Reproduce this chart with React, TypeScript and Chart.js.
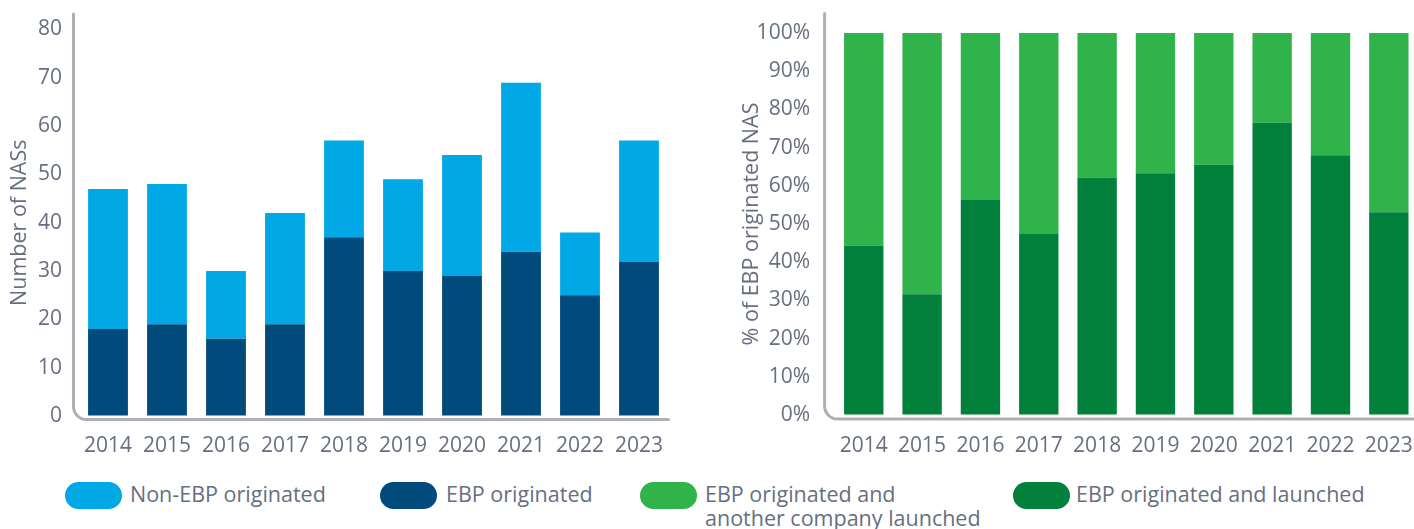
import React, { useEffect, useRef } from "react";
import { Chart, registerables } from "chart.js";

Chart.register(...registerables);

// ---- data ----
const years = ["2014", "2015", "2016", "2017", "2018", "2019", "2020", "2021", "2022", "2023"];
const ebpOriginated = [18, 19, 16, 19, 37, 30, 29, 34, 25, 32];
const nonEbpOriginated = [29, 29, 14, 23, 20, 19, 25, 35, 13, 25];
const ebpLaunchedPct = [44.4, 31.6, 56.3, 47.4, 62.2, 63.3, 65.5, 76.5, 68.0, 53.1];
const otherLaunchedPct = [55.6, 68.4, 43.7, 52.6, 37.8, 36.7, 34.5, 23.5, 32.0, 46.9];
const countTickStep = 10;
const countMax = 80;
const pctTickStep = 10;
const pctMax = 100;

const legendItems = [
  { label: ["Non-EBP originated"], color: "#00a9e5", left: 65, textLeft: 130 },
  { label: ["EBP originated"], color: "#004a7c", left: 380, textLeft: 446 },
  { label: ["EBP originated and", "another company launched"], color: "#2fb34a", left: 640, textLeft: 705 },
  { label: ["EBP originated and launched"], color: "#00803a", left: 1013, textLeft: 1076 },
];

const FONT = "'Open Sans', 'Noto Sans', sans-serif";
const TEXT = "#666f80";
const AXIS = "#adafb7";

function makeAxisPlugin(cfg: { dx: number; dy: number; top: number; r: number; extendRight?: number }) {
  return {
    id: "roundAxis",
    afterDatasetsDraw(chart: any) {
      const { ctx, chartArea } = chart;
      const x = chartArea.left - cfg.dx;
      const y = chartArea.bottom + cfg.dy;
      const r = cfg.r;
      ctx.save();
      ctx.strokeStyle = AXIS;
      ctx.lineWidth = 3;
      ctx.lineCap = "round";
      ctx.beginPath();
      ctx.moveTo(x, cfg.top);
      ctx.lineTo(x, y - r);
      ctx.arcTo(x, y, x + r, y, r);
      ctx.lineTo(chartArea.right + (cfg.extendRight || 0), y);
      ctx.stroke();
      ctx.restore();
    },
  };
}

function hiddenGrid(len: number) {
  return {
    display: true,
    drawOnChartArea: false,
    drawTicks: true,
    tickLength: len,
    color: "rgba(0,0,0,0)",
  };
}

function buildOptions(p: {
  yWidth: number;
  xHeight: number;
  padding: any;
  yTick: number;
  xTick: number;
  max: number;
  step: number;
  title: string;
  titlePad: number;
  pct: boolean;
}) {
  return {
    responsive: false,
    animation: false as const,
    events: [],
    layout: { padding: p.padding },
    plugins: { legend: { display: false }, tooltip: { enabled: false } },
    datasets: { bar: { barPercentage: 0.675, categoryPercentage: 1 } },
    scales: {
      x: {
        stacked: true,
        grid: hiddenGrid(p.xTick),
        border: { display: false },
        ticks: { padding: 0, color: TEXT, font: { family: FONT, size: 21 }, maxRotation: 0 },
        afterFit: (s: any) => {
          s.height = p.xHeight;
        },
      },
      y: {
        stacked: true,
        min: 0,
        max: p.max,
        grid: hiddenGrid(p.yTick),
        border: { display: false },
        ticks: {
          stepSize: p.step,
          padding: 0,
          color: TEXT,
          font: { family: FONT, size: 21 },
          callback: (v: any) => (p.pct ? v + "%" : String(v)),
        },
        title: {
          display: true,
          text: p.title,
          color: TEXT,
          font: { family: FONT, size: 21.5 },
          padding: { top: p.titlePad, bottom: 0 },
        },
        afterFit: (s: any) => {
          s.width = p.yWidth;
        },
      },
    },
  };
}

export default function App() {
  const leftRef = useRef<HTMLCanvasElement>(null);
  const rightRef = useRef<HTMLCanvasElement>(null);

  useEffect(() => {
    const left = new Chart(leftRef.current!, {
      type: "bar",
      data: {
        labels: years,
        datasets: [
          { label: "EBP originated", data: ebpOriginated, backgroundColor: "#004a7c", borderWidth: 0 },
          { label: "Non-EBP originated", data: nonEbpOriginated, backgroundColor: "#00a9e5", borderWidth: 0 },
        ],
      },
      options: buildOptions({
        yWidth: 78.5,
        xHeight: 54,
        padding: { top: 29.5, right: 11.5, left: 0, bottom: 0 },
        yTick: 16.5,
        xTick: 17,
        max: countMax,
        step: countTickStep,
        title: "Number of NASs",
        titlePad: 7,
        pct: false,
      }) as any,
      plugins: [makeAxisPlugin({ dx: 5, dy: 3.5, top: 14, r: 13 })],
    });

    const right = new Chart(rightRef.current!, {
      type: "bar",
      data: {
        labels: years,
        datasets: [
          { label: "EBP originated and launched", data: ebpLaunchedPct, backgroundColor: "#00803a", borderWidth: 0 },
          {
            label: "EBP originated and another company launched",
            data: otherLaunchedPct,
            backgroundColor: "#2fb34a",
            borderWidth: 0,
          },
        ],
      },
      options: buildOptions({
        yWidth: 134.6,
        xHeight: 55,
        padding: { top: 33, right: 22, left: 0, bottom: 0 },
        yTick: 24.6,
        xTick: 18,
        max: pctMax,
        step: pctTickStep,
        title: "% of EBP originated NAS",
        titlePad: 39,
        pct: true,
      }) as any,
      plugins: [makeAxisPlugin({ dx: 10, dy: 4, top: 13.5, r: 13, extendRight: 20 })],
    });

    return () => {
      left.destroy();
      right.destroy();
    };
  }, []);

  return (
    <div
      style={{
        position: "absolute",
        left: 0,
        top: 0,
        width: 1414,
        height: 529,
        overflow: "hidden",
        background: "#ffffff",
        fontFamily: FONT,
      }}
    >
      <canvas ref={leftRef} width={680} height={470} style={{ position: "absolute", left: 0, top: 0 }} />
      <canvas ref={rightRef} width={740} height={470} style={{ position: "absolute", left: 700, top: 0 }} />
      {legendItems.map((it, i) => (
        <React.Fragment key={i}>
          <div
            style={{
              position: "absolute",
              left: it.left,
              top: 482,
              width: 57,
              height: 27,
              borderRadius: 13.5,
              background: it.color,
            }}
          />
          <div
            style={{
              position: "absolute",
              left: it.textLeft,
              top: 482,
              fontSize: 21.5,
              lineHeight: "24px",
              color: TEXT,
              whiteSpace: "nowrap",
            }}
          >
            {it.label.map((l, j) => (
              <div key={j}>{l}</div>
            ))}
          </div>
        </React.Fragment>
      ))}
    </div>
  );
}
